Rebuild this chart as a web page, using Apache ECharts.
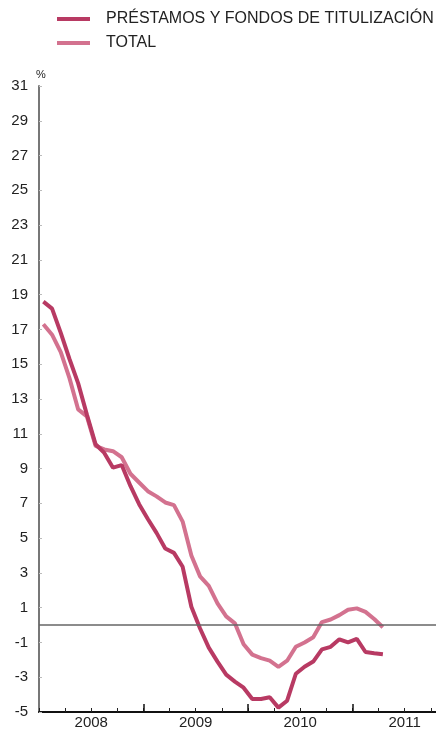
<!DOCTYPE html>
<html>
<head>
<meta charset="utf-8">
<script src="https://cdn.jsdelivr.net/npm/echarts@6/dist/echarts.min.js"></script>
<style>
html,body{margin:0;padding:0;background:#fff;}
#c{width:436px;height:729px;}
</style>
</head>
<body>
<div id="c"></div>
<script>
const months = ['2008-01','2008-02','2008-03','2008-04','2008-05','2008-06','2008-07','2008-08','2008-09','2008-10','2008-11','2008-12',
'2009-01','2009-02','2009-03','2009-04','2009-05','2009-06','2009-07','2009-08','2009-09','2009-10','2009-11','2009-12',
'2010-01','2010-02','2010-03','2010-04','2010-05','2010-06','2010-07','2010-08','2010-09','2010-10','2010-11','2010-12',
'2011-01','2011-02','2011-03','2011-04'];
const prestamos = [18.6, 18.2, 16.8, 15.3, 13.9, 12.1, 10.4, 9.9, 9.05, 9.2, 8.0, 6.95, 6.1, 5.3, 4.4, 4.15, 3.35, 1.05, -0.2, -1.3, -2.1, -2.85, -3.25, -3.6, -4.25, -4.25, -4.15, -4.75, -4.35, -2.8, -2.4, -2.1, -1.4, -1.25, -0.82, -1.0, -0.8, -1.55, -1.62, -1.68];
const total = [17.3, 16.7, 15.7, 14.2, 12.4, 12.0, 10.3, 10.1, 10.0, 9.65, 8.7, 8.2, 7.7, 7.4, 7.05, 6.9, 5.95, 4.0, 2.8, 2.25, 1.25, 0.5, 0.1, -1.1, -1.7, -1.9, -2.05, -2.4, -2.05, -1.25, -1.0, -0.7, 0.17, 0.32, 0.57, 0.88, 0.96, 0.76, 0.35, -0.13];
const seriesNames = ['PRÉSTAMOS Y FONDOS DE TITULIZACIÓN', 'TOTAL'];
const yTicks = [-5,-3,-1,1,3,5,7,9,11,13,15,17,19,21,23,25,27,29,31];
const yearLabels = ['2008','2009','2010','2011'];
const firstYear = 2008;

// month -> position in months since Jan 2008 (mid-month)
function monthPos(s){
  const [y,m] = s.split('-').map(Number);
  return (y - firstYear) * 12 + (m - 1) + 0.5;
}
const quarterTicks = [];
for (let v = 0; v <= 45; v += 3) quarterTicks.push(v);
const yearTicks = yearLabels.slice(1).map((_, i) => (i + 1) * 12);
const yearCenters = yearLabels.map((_, i) => i * 12 + 6);

const xMax = 45.6;
const chart = echarts.init(document.getElementById('c'), null, {renderer:'canvas'});
const font = 'Liberation Sans, Arial, Helvetica, sans-serif';
const baseX = {type:'value', gridIndex:0, min:0, max:xMax, position:'bottom', splitLine:{show:false}};
chart.setOption({
  animation:false,
  backgroundColor:'#fff',
  legend:{
    orient:'vertical', left:57, top:11, itemGap:8, padding:0,
    itemWidth:33, itemHeight:4, icon:'rect',
    textStyle:{fontFamily:font, fontSize:16, color:'#222', padding:[0,0,0,11]},
    data:seriesNames
  },
  grid:{left:39, right:0, top:86, bottom:17, containLabel:false, outerBoundsMode:'none'},
  xAxis:[
    Object.assign({}, baseX, {
      axisLine:{show:true, onZero:false, lineStyle:{color:'#111', width:2}},
      axisTick:{show:true, inside:true, length:4, customValues:quarterTicks, lineStyle:{color:'#222', width:1}},
      axisLabel:{show:false}
    }),
    Object.assign({}, baseX, {
      axisLine:{show:false, onZero:false},
      axisTick:{show:true, inside:true, length:8, customValues:yearTicks, lineStyle:{color:'#111', width:1.5}},
      axisLabel:{show:false}
    }),
    Object.assign({}, baseX, {
      axisLine:{show:false, onZero:false},
      axisTick:{show:false},
      axisLabel:{show:true, margin:3, customValues:yearCenters, fontFamily:font, fontSize:15, color:'#222',
        formatter:(v) => yearLabels[Math.floor(v / 12)]}
    })
  ],
  yAxis:{
    type:'value', min:-5, max:31, interval:2,
    name:'%', nameLocation:'end', nameGap:6,
    nameTextStyle:{fontFamily:font, fontSize:11, color:'#222', align:'left', padding:[0,0,0,-3]},
    axisLine:{show:true, onZero:false, lineStyle:{color:'#777', width:2}},
    axisTick:{show:true, inside:true, length:3, customValues:yTicks, lineStyle:{color:'#bbb', width:1}},
    axisLabel:{margin:11, customValues:yTicks, fontFamily:font, fontSize:15, color:'#222'},
    splitLine:{show:false}
  },
  series:[
    {
      name:seriesNames[1], type:'line', xAxisIndex:0, showSymbol:false, symbol:'none',
      lineStyle:{color:'#d3728f', width:4}, itemStyle:{color:'#d3728f'},
      data:months.map((m,i)=>[monthPos(m), total[i]]),
      markLine:{silent:true, symbol:'none', label:{show:false},
        lineStyle:{color:'#666', width:1.5, type:'solid'}, data:[{yAxis:0}]},
      z:2
    },
    {
      name:seriesNames[0], type:'line', xAxisIndex:0, showSymbol:false, symbol:'none',
      lineStyle:{color:'#b83a63', width:4}, itemStyle:{color:'#b83a63'},
      data:months.map((m,i)=>[monthPos(m), prestamos[i]]),
      z:3
    }
  ]
});
</script>
</body>
</html>
